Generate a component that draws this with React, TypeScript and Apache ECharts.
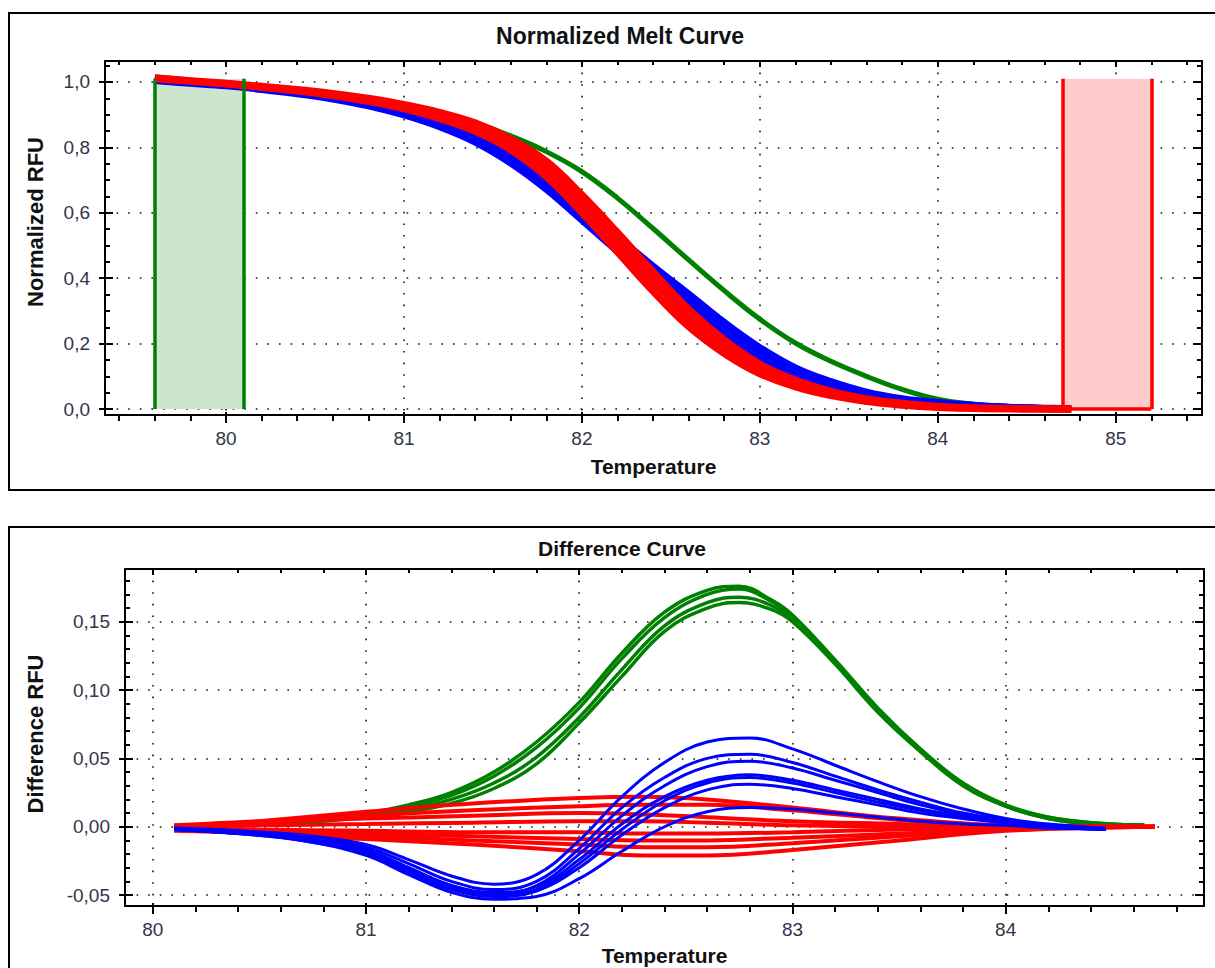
import React, { useEffect, useRef } from "react";
import * as echarts from "echarts";

// ---------- Normalized melt curve data ----------
const meltTemps = [79.6, 79.8, 80.0, 80.2, 80.4, 80.6, 80.8, 81.0, 81.2, 81.4, 81.6, 81.8, 82.0, 82.2, 82.4, 82.6, 82.8, 83.0, 83.2, 83.4, 83.6, 83.8, 84.0, 84.2, 84.4, 84.6, 84.75];
const meltGreen = [1.010, 1.003, 0.995, 0.986, 0.976, 0.964, 0.949, 0.930, 0.907, 0.876, 0.835, 0.787, 0.726, 0.645, 0.552, 0.456, 0.362, 0.275, 0.202, 0.146, 0.100, 0.060, 0.030, 0.015, 0.008, 0.004, 0.002];
const meltRedHigh = [1.013, 1.004, 0.996, 0.987, 0.977, 0.965, 0.950, 0.931, 0.907, 0.875, 0.826, 0.758, 0.655, 0.540, 0.420, 0.306, 0.212, 0.138, 0.089, 0.055, 0.032, 0.018, 0.009, 0.004, 0.002, 0.001, 0.000];
const meltRedMid = [1.012, 1.003, 0.995, 0.985, 0.975, 0.962, 0.946, 0.925, 0.898, 0.862, 0.810, 0.735, 0.628, 0.510, 0.390, 0.278, 0.190, 0.122, 0.078, 0.048, 0.028, 0.015, 0.007, 0.003, 0.001, 0.000, 0.000];
const meltRedLow = [1.010, 1.002, 0.994, 0.983, 0.972, 0.958, 0.941, 0.918, 0.888, 0.849, 0.792, 0.710, 0.600, 0.480, 0.360, 0.252, 0.170, 0.108, 0.068, 0.041, 0.023, 0.012, 0.005, 0.002, 0.001, 0.000, 0.000];
const meltBlueHigh = [1.006, 0.999, 0.992, 0.982, 0.971, 0.957, 0.938, 0.913, 0.881, 0.840, 0.782, 0.710, 0.620, 0.527, 0.437, 0.352, 0.265, 0.188, 0.126, 0.084, 0.052, 0.032, 0.020, 0.012, 0.006, 0.003, 0.001];
const meltBlueMid = [1.005, 0.998, 0.990, 0.980, 0.968, 0.953, 0.933, 0.906, 0.872, 0.828, 0.768, 0.692, 0.600, 0.505, 0.415, 0.330, 0.245, 0.172, 0.115, 0.075, 0.046, 0.027, 0.017, 0.010, 0.005, 0.002, 0.001];
const meltBlueLow = [1.004, 0.996, 0.988, 0.977, 0.964, 0.948, 0.927, 0.899, 0.863, 0.816, 0.752, 0.672, 0.578, 0.483, 0.393, 0.308, 0.225, 0.156, 0.104, 0.066, 0.040, 0.023, 0.014, 0.008, 0.004, 0.002, 0.000];

// selected regions (temperature ranges)
const greenRegion = [79.6, 80.1];
const redRegion = [84.7, 85.2];
const regionTop = 1.01;

const meltXTicks = [80, 81, 82, 83, 84, 85];
const meltYTicks = [0, 0.2, 0.4, 0.6, 0.8, 1.0];

// ---------- Difference curve data ----------
const greenTemps = [80.1, 80.4, 80.7, 81.0, 81.2, 81.4, 81.6, 81.8, 82.0, 82.2, 82.4, 82.6, 82.75, 82.9, 83.0, 83.2, 83.4, 83.6, 83.8, 84.0, 84.2, 84.4, 84.65];
const diffGreen1 = [0.000, 0.002, 0.005, 0.010, 0.016, 0.025, 0.040, 0.062, 0.091, 0.127, 0.157, 0.173, 0.176, 0.166, 0.155, 0.122, 0.087, 0.057, 0.032, 0.016, 0.007, 0.003, 0.001];
const diffGreen2 = [0.000, 0.002, 0.004, 0.009, 0.015, 0.023, 0.037, 0.058, 0.087, 0.123, 0.153, 0.170, 0.174, 0.165, 0.154, 0.121, 0.086, 0.056, 0.031, 0.015, 0.007, 0.003, 0.001];
const diffGreen3 = [0.000, 0.001, 0.004, 0.008, 0.013, 0.020, 0.032, 0.051, 0.080, 0.115, 0.147, 0.164, 0.168, 0.162, 0.152, 0.120, 0.085, 0.056, 0.031, 0.015, 0.006, 0.002, 0.001];
const diffGreen4 = [0.000, 0.001, 0.003, 0.007, 0.011, 0.017, 0.028, 0.046, 0.076, 0.110, 0.143, 0.160, 0.164, 0.159, 0.150, 0.119, 0.084, 0.055, 0.030, 0.015, 0.006, 0.002, 0.001];

const blueTemps = [80.1, 80.4, 80.7, 81.0, 81.2, 81.4, 81.6, 81.8, 82.0, 82.2, 82.4, 82.6, 82.8, 83.0, 83.2, 83.4, 83.6, 83.8, 84.0, 84.2, 84.47];
const diffBlue1 = [-0.001, -0.003, -0.006, -0.013, -0.024, -0.036, -0.042, -0.035, -0.010, 0.022, 0.047, 0.062, 0.065, 0.057, 0.045, 0.033, 0.022, 0.013, 0.006, 0.002, -0.001];
const diffBlue2 = [-0.001, -0.003, -0.007, -0.015, -0.027, -0.040, -0.046, -0.040, -0.016, 0.014, 0.036, 0.050, 0.053, 0.047, 0.037, 0.027, 0.018, 0.010, 0.005, 0.001, -0.002];
const diffBlue3 = [-0.002, -0.004, -0.008, -0.017, -0.030, -0.043, -0.049, -0.043, -0.020, 0.008, 0.030, 0.044, 0.048, 0.043, 0.034, 0.025, 0.016, 0.009, 0.004, 0.001, -0.002];
const diffBlue4 = [-0.002, -0.004, -0.008, -0.017, -0.030, -0.043, -0.048, -0.044, -0.024, 0.002, 0.022, 0.034, 0.038, 0.034, 0.027, 0.020, 0.013, 0.008, 0.004, 0.001, -0.002];
const diffBlue5 = [-0.002, -0.005, -0.009, -0.019, -0.032, -0.045, -0.050, -0.046, -0.027, -0.002, 0.019, 0.032, 0.036, 0.032, 0.025, 0.018, 0.012, 0.007, 0.003, 0.000, -0.002];
const diffBlue6 = [-0.002, -0.005, -0.010, -0.020, -0.034, -0.046, -0.051, -0.047, -0.030, -0.006, 0.014, 0.027, 0.031, 0.028, 0.022, 0.016, 0.010, 0.006, 0.003, 0.000, -0.002];
const diffBlue7 = [-0.002, -0.005, -0.010, -0.021, -0.035, -0.048, -0.053, -0.051, -0.038, -0.018, 0.000, 0.011, 0.014, 0.013, 0.010, 0.007, 0.004, 0.002, 0.001, -0.001, -0.002];

const redTemps = [80.1, 80.5, 81.0, 81.5, 82.0, 82.3, 82.6, 83.0, 83.5, 84.0, 84.7];
const diffRed1 = [-0.001, 0.004, 0.011, 0.017, 0.021, 0.022, 0.020, 0.014, 0.006, 0.001, 0.000];
const diffRed2 = [0.000, 0.003, 0.008, 0.012, 0.015, 0.016, 0.016, 0.012, 0.005, 0.001, 0.000];
const diffRed3 = [0.001, 0.004, 0.006, 0.008, 0.010, 0.009, 0.007, 0.004, 0.002, 0.000, 0.000];
const diffRed4 = [0.000, 0.001, 0.002, 0.003, 0.004, 0.004, 0.003, 0.001, 0.000, 0.000, 0.000];
const diffRed5 = [-0.001, -0.002, -0.003, -0.004, -0.004, -0.005, -0.005, -0.004, -0.002, -0.001, 0.000];
const diffRed6 = [-0.002, -0.003, -0.005, -0.007, -0.009, -0.010, -0.010, -0.008, -0.005, -0.002, 0.000];
const diffRed7 = [-0.002, -0.004, -0.007, -0.010, -0.013, -0.015, -0.015, -0.012, -0.007, -0.002, 0.000];
const diffRed8 = [-0.003, -0.005, -0.009, -0.013, -0.018, -0.021, -0.021, -0.017, -0.010, -0.003, 0.000];

const diffXTicks = [80, 81, 82, 83, 84];
const diffYTicks = [-0.05, 0, 0.05, 0.1, 0.15];

// ---------- styling ----------
const GREEN = "#008000";
const BLUE = "#0000ff";
const RED = "#ff0000";
const FONT = "'Liberation Sans', Arial, sans-serif";
const LABEL_COLOR = "#34344a";
const NAME_COLOR = "#111111";

function range(from: number, to: number, step: number, skip: number[]) {
  const out: number[] = [];
  const n = Math.round((to - from) / step);
  for (let i = 0; i <= n; i++) {
    const v = Math.round((from + i * step) * 1000) / 1000;
    if (!skip.some((s) => Math.abs(s - v) < 1e-6)) out.push(v);
  }
  return out;
}

const pairs = (xs: number[], ys: number[]) => xs.map((x, i) => [x, ys[i]]);

const TICK_LINE = { color: "#000", width: 2 };
const GRID_LINE = { color: "#111", width: 1.6, type: [1.6, 10] };

function tickAxis(grid: number, min: number, max: number, position: string, values: number[], length: number, inside: boolean, showLine: boolean) {
  return {
    type: "value", gridIndex: grid, min, max, position,
    axisLine: { show: showLine, onZero: false, lineStyle: TICK_LINE },
    axisTick: { show: true, inside, customValues: values, length, lineStyle: TICK_LINE },
    axisLabel: { show: false }, splitLine: { show: false },
  };
}

function makeXAxes(grid: number, min: number, max: number, majors: number[], minors: number[], gap: number) {
  return [
    {
      type: "value", gridIndex: grid, min, max, position: "bottom",
      axisLine: { show: true, onZero: false, lineStyle: TICK_LINE },
      axisTick: { show: true, customValues: majors, length: 8, lineStyle: TICK_LINE },
      axisLabel: { show: true, customValues: majors, margin: 14, color: LABEL_COLOR, fontSize: 19, fontFamily: FONT, formatter: (v: number) => String(Math.round(v)) },
      splitLine: { show: true, lineStyle: GRID_LINE },
      name: "Temperature", nameLocation: "middle", nameGap: gap,
      nameTextStyle: { color: NAME_COLOR, fontSize: 21, fontWeight: "bold", fontFamily: FONT },
    },
    tickAxis(grid, min, max, "bottom", majors, 3, true, false),
    tickAxis(grid, min, max, "bottom", minors, 6, false, false),
    tickAxis(grid, min, max, "top", majors, 6, true, true),
    tickAxis(grid, min, max, "top", minors, 4, true, false),
  ];
}

function makeYAxes(grid: number, min: number, max: number, majors: number[], minors: number[], digits: number) {
  return [
    {
      type: "value", gridIndex: grid, min, max, position: "left",
      axisLine: { show: true, onZero: false, lineStyle: TICK_LINE },
      axisTick: { show: true, customValues: majors, length: 6, lineStyle: TICK_LINE },
      axisLabel: { show: true, customValues: majors, margin: 15, color: LABEL_COLOR, fontSize: 19, fontFamily: FONT, formatter: (v: number) => v.toFixed(digits).replace(".", ",") },
      splitLine: { show: true, lineStyle: GRID_LINE },
    },
    tickAxis(grid, min, max, "left", majors, 8, true, false),
    tickAxis(grid, min, max, "left", minors, 5, true, false),
    tickAxis(grid, min, max, "right", majors, 9, true, true),
    tickAxis(grid, min, max, "right", minors, 5, true, false),
  ];
}

function curve(name: string, xs: number[], ys: number[], color: string, width: number, axis: number, z: number) {
  return {
    name, type: "line", xAxisIndex: axis, yAxisIndex: axis, z,
    data: pairs(xs, ys), smooth: 0.4, showSymbol: false, symbol: "none",
    lineStyle: { color, width }, silent: true,
  };
}

export default function App() {
  const ref = useRef<HTMLDivElement>(null);
  useEffect(() => {
    if (!ref.current) return;
    const chart = echarts.init(ref.current, undefined, { renderer: "svg" });

    const meltMinorX = range(79.4, 85.4, 0.2, meltXTicks);
    const meltMinorY = range(0.05, 1.05, 0.05, meltYTicks);
    const diffMinorX = range(80.2, 84.8, 0.2, diffXTicks);
    const diffMinorY = range(-0.05, 0.18, 0.01, diffYTicks);

    const topX = makeXAxes(0, 79.32, 85.485, meltXTicks, meltMinorX, 41);
    const botX = makeXAxes(1, 79.87, 84.93, diffXTicks, diffMinorX, 39);
    const topY = makeYAxes(0, -0.018, 1.064, meltYTicks, meltMinorY, 1);
    const botY = makeYAxes(1, -0.058, 0.1886, diffYTicks, diffMinorY, 2);
    const T = 0;
    const B = topX.length; // first axis index of the lower chart

    const regionSeries = {
      name: "regions", type: "line", xAxisIndex: T, yAxisIndex: T, z: 1, data: [], silent: true,
      markArea: {
        silent: true,
        data: [
          [{ coord: [greenRegion[0], 0], itemStyle: { color: "#cde5cd" } }, { coord: [greenRegion[1], regionTop] }],
          [{ coord: [redRegion[0], 0], itemStyle: { color: "#ffcbcb" } }, { coord: [redRegion[1], regionTop] }],
        ],
      },
      markLine: {
        silent: true, symbol: ["none", "none"], label: { show: false },
        data: [
          [{ coord: [greenRegion[0], 0], lineStyle: { color: GREEN, width: 3.5, type: "solid" } }, { coord: [greenRegion[0], regionTop] }],
          [{ coord: [greenRegion[1], 0], lineStyle: { color: GREEN, width: 3.5, type: "solid" } }, { coord: [greenRegion[1], regionTop] }],
          [{ coord: [redRegion[0], 0], lineStyle: { color: RED, width: 3.5, type: "solid" } }, { coord: [redRegion[0], regionTop] }],
          [{ coord: [redRegion[1], 0], lineStyle: { color: RED, width: 3.5, type: "solid" } }, { coord: [redRegion[1], regionTop] }],
          [{ coord: [redRegion[0], 0], lineStyle: { color: RED, width: 3.5, type: "solid" } }, { coord: [redRegion[1], 0] }],
        ],
      },
    };

    const series: any[] = [
      regionSeries,
      curve("Green melt", meltTemps, meltGreen, GREEN, 5, T, 2),
      curve("Blue melt high", meltTemps, meltBlueHigh, BLUE, 7, T, 3),
      curve("Blue melt", meltTemps, meltBlueMid, BLUE, 7, T, 3),
      curve("Blue melt low", meltTemps, meltBlueLow, BLUE, 7, T, 3),
      curve("Red melt high", meltTemps, meltRedHigh, RED, 7, T, 4),
      curve("Red melt", meltTemps, meltRedMid, RED, 7, T, 4),
      curve("Red melt low", meltTemps, meltRedLow, RED, 7, T, 4),

      curve("Green diff 1", greenTemps, diffGreen1, GREEN, 3.5, B, 2),
      curve("Green diff 2", greenTemps, diffGreen2, GREEN, 3.5, B, 2),
      curve("Green diff 3", greenTemps, diffGreen3, GREEN, 3.5, B, 2),
      curve("Green diff 4", greenTemps, diffGreen4, GREEN, 3.5, B, 2),
      curve("Red diff 1", redTemps, diffRed1, RED, 4, B, 3),
      curve("Red diff 2", redTemps, diffRed2, RED, 4, B, 3),
      curve("Red diff 3", redTemps, diffRed3, RED, 4, B, 3),
      curve("Red diff 4", redTemps, diffRed4, RED, 4, B, 3),
      curve("Red diff 5", redTemps, diffRed5, RED, 4, B, 3),
      curve("Red diff 6", redTemps, diffRed6, RED, 4, B, 3),
      curve("Red diff 7", redTemps, diffRed7, RED, 4, B, 3),
      curve("Red diff 8", redTemps, diffRed8, RED, 4, B, 3),
      curve("Blue diff 1", blueTemps, diffBlue1, BLUE, 3, B, 4),
      curve("Blue diff 2", blueTemps, diffBlue2, BLUE, 3, B, 4),
      curve("Blue diff 3", blueTemps, diffBlue3, BLUE, 3, B, 4),
      curve("Blue diff 4", blueTemps, diffBlue4, BLUE, 3, B, 4),
      curve("Blue diff 5", blueTemps, diffBlue5, BLUE, 3, B, 4),
      curve("Blue diff 6", blueTemps, diffBlue6, BLUE, 3, B, 4),
      curve("Blue diff 7", blueTemps, diffBlue7, BLUE, 3, B, 4),
    ];

    chart.setOption({
      animation: false,
      backgroundColor: "#ffffff",
      grid: [
        { left: 105, top: 61, width: 1097, height: 354 },
        { left: 125, top: 569, width: 1079, height: 337 },
      ],
      xAxis: [...topX, ...botX],
      yAxis: [...topY, ...botY],
      series,
      graphic: [
        { type: "rect", silent: true, shape: { x: 9, y: 13, width: 1230, height: 477 }, style: { fill: "none", stroke: "#000", lineWidth: 2 } },
        { type: "rect", silent: true, shape: { x: 9, y: 527, width: 1230, height: 460 }, style: { fill: "none", stroke: "#000", lineWidth: 2 } },
        { type: "text", silent: true, x: 620, y: 36, style: { text: "Normalized Melt Curve", align: "center", verticalAlign: "middle", fill: NAME_COLOR, font: "bold 23px " + FONT } },
        { type: "text", silent: true, x: 622, y: 548, style: { text: "Difference Curve", align: "center", verticalAlign: "middle", fill: NAME_COLOR, font: "bold 21px " + FONT } },
        { type: "text", silent: true, x: 35, y: 222, rotation: Math.PI / 2, style: { text: "Normalized RFU", align: "center", verticalAlign: "middle", fill: NAME_COLOR, font: "bold 22px " + FONT } },
        { type: "text", silent: true, x: 35, y: 734, rotation: Math.PI / 2, style: { text: "Difference RFU", align: "center", verticalAlign: "middle", fill: NAME_COLOR, font: "bold 22px " + FONT } },
      ],
    });
    return () => chart.dispose();
  }, []);
  return <div ref={ref} style={{ position: "fixed", left: 0, top: 0, width: 1215, height: 968, background: "#fff" }} />;
}
